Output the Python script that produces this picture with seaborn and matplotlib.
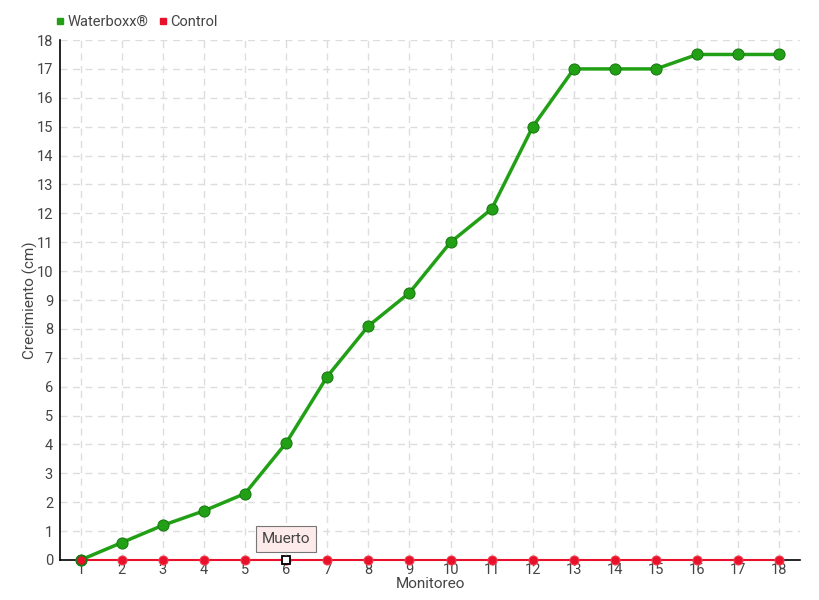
import matplotlib

matplotlib.use("Agg")
import matplotlib.pyplot as plt
import pandas as pd
import seaborn as sns
from matplotlib.lines import Line2D

monitoreo = list(range(1, 19))
waterboxx = [0, 0.6, 1.2, 1.7, 2.3, 4.05, 6.35, 8.1, 9.25, 11, 12.15, 15, 17, 17, 17, 17.5, 17.5, 17.5]
control = [0] * 18
muerto_idx = 6

GREEN = "#22a015"
GREEN_EDGE = "#1a7a12"
RED = "#e8102a"
TEXT = "#444444"

sns.set_theme(style="white")
plt.rcParams["font.family"] = ["Roboto", "DejaVu Sans"]

df = pd.DataFrame({"Monitoreo": monitoreo, "Waterboxx": waterboxx, "Control": control})

fig = plt.figure(figsize=(8.2, 6), dpi=100)
ax = fig.add_axes([0.0732, 0.0667, 0.9024, 0.8666])

sns.lineplot(data=df, x="Monitoreo", y="Control", color=RED, lw=1.5, marker="o",
             markersize=6.5, markerfacecolor=RED, markeredgecolor="#f04050", ax=ax,
             zorder=3, clip_on=False)
sns.lineplot(data=df, x="Monitoreo", y="Waterboxx", color=GREEN, lw=2.5, marker="o",
             markersize=8, markerfacecolor=GREEN, markeredgecolor=GREEN_EDGE, ax=ax,
             zorder=4, clip_on=False)
# first control point sits on top of the green
ax.plot(monitoreo[0], control[0], "o", color=RED, markersize=7, markeredgecolor=GREEN_EDGE,
        zorder=5, clip_on=False)
# dead plant marker
ax.plot(muerto_idx, control[muerto_idx - 1], "s", markersize=6, markerfacecolor="white",
        markeredgecolor="black", markeredgewidth=1.3, zorder=6, clip_on=False)
ax.annotate("Muerto", xy=(muerto_idx, 0.15), xytext=(muerto_idx, 0.72),
            ha="center", va="center", fontsize=11, color=TEXT,
            bbox=dict(boxstyle="square,pad=0.4", fc="#fdeaea", ec="#777777", lw=0.8),
            arrowprops=dict(arrowstyle="-", color="#777777", lw=0.8), zorder=7)

ax.set_xlim(0.5, 18.5)
ax.set_ylim(0, 18)
ax.set_xticks(monitoreo)
ax.set_yticks(range(0, 19))
ax.grid(True, color="#dddddd", linestyle=(0, (5, 4)), lw=1)
ax.set_axisbelow(True)
for side in ["top", "right"]:
    ax.spines[side].set_visible(False)
for side in ["left", "bottom"]:
    ax.spines[side].set_color("black")
    ax.spines[side].set_linewidth(1.2)
ax.tick_params(axis="y", direction="inout", length=6, width=1, colors="black",
               labelcolor=TEXT, labelsize=10.5, pad=2)
ax.tick_params(axis="x", direction="inout", length=0, labelcolor=TEXT, labelsize=10.5, pad=2)
ax.set_xlabel("Monitoreo", fontsize=11, color=TEXT, labelpad=0)
ax.set_ylabel("Crecimiento (cm)", fontsize=11, color=TEXT)
ax.yaxis.set_label_coords(-0.03, 0.5)

handles = [
    Line2D([], [], marker="s", linestyle="", color=GREEN, markersize=5),
    Line2D([], [], marker="s", linestyle="", color=RED, markersize=5),
]
fig.legend(handles, ["Waterboxx®", "Control"], loc="upper left", bbox_to_anchor=(0.048, 0.997),
           ncol=2, frameon=False, fontsize=10.5, handletextpad=0.0, columnspacing=0.5,
           handlelength=1.0, labelcolor=TEXT)

fig.savefig("out.png", dpi=100)
